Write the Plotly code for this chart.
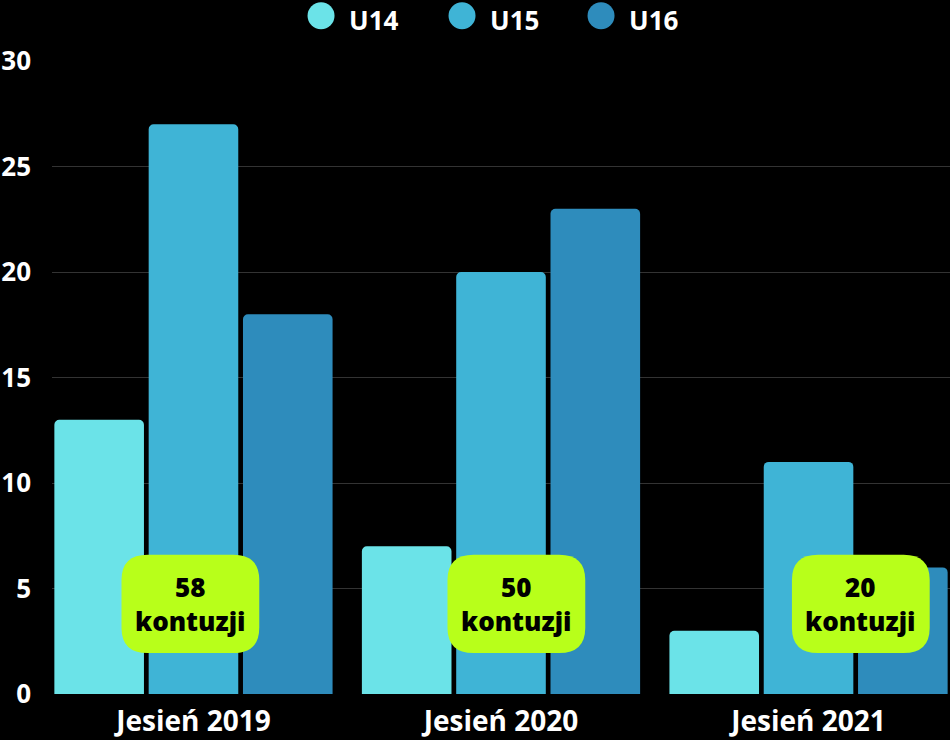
import plotly.graph_objects as go

categories = ["Jesień 2019", "Jesień 2020", "Jesień 2021"]
series_names = ["U14", "U15", "U16"]
u14 = [13, 7, 3]
u15 = [27, 20, 11]
u16 = [18, 23, 6]
colors = ["#6be3e8", "#3fb4d6", "#2e8cbc"]
totals = ["58", "50", "20"]
box_centers = [-0.01, 0.05, 0.17]  # offset from category position
legend_x = [0.2996, 0.4566, 0.6114]  # paper x of legend circles

font_main = "Open Sans"

fig = go.Figure()
for name, vals, col in zip(series_names, [u14, u15, u16], colors):
    fig.add_trace(go.Bar(x=[0, 1, 2], y=vals, name=name, marker=dict(color=col, line=dict(width=0)),
                         showlegend=False, hoverinfo="skip"))

def rounded_rect(x0, x1, y0, y1, rx, ry):
    return (f"M {x0+rx},{y0} L {x1-rx},{y0} Q {x1},{y0} {x1},{y0+ry} "
            f"L {x1},{y1-ry} Q {x1},{y1} {x1-rx},{y1} "
            f"L {x0+rx},{y1} Q {x0},{y1} {x0},{y1-ry} "
            f"L {x0},{y0+ry} Q {x0},{y0} {x0+rx},{y0} Z")

shapes = []
annotations = []
half_w = 0.224
for i, (t, off) in enumerate(zip(totals, box_centers)):
    cx = i + off
    shapes.append(dict(type="path", xref="x", yref="y",
                       path=rounded_rect(cx - half_w, cx + half_w, 1.94, 6.6, 0.085, 1.2),
                       fillcolor="#b8ff1a", line=dict(width=0), layer="above"))
    annotations.append(dict(x=cx, y=4.27, xref="x", yref="y", showarrow=False,
                            text=f"{t}<br>kontuzji", align="center",
                            font=dict(family=font_main, size=26, color="#000000", weight=800)))

# custom legend (large circles)
leg_top = 1.0964      # paper y of figure top edge
leg_circle_y = 1.0714  # paper y of circle centres
for name, col, lx in zip(series_names, colors, legend_x):
    shapes.append(dict(type="circle", xref="paper", yref="paper",
                       xsizemode="pixel", ysizemode="pixel", xanchor=lx, yanchor=leg_circle_y,
                       x0=-13.5, x1=13.5, y0=-13.5, y1=13.5,
                       fillcolor=col, line=dict(width=0)))
    annotations.append(dict(x=lx, y=leg_top, xref="paper", yref="paper", showarrow=False,
                            text=name, xanchor="left", yanchor="top", xshift=26,
                            font=dict(family=font_main, size=26, color="#ffffff", weight="bold")))

fig.update_layout(
    width=950, height=740,
    paper_bgcolor="#000000", plot_bgcolor="#000000",
    margin=dict(l=52, r=0, t=61, b=46, autoexpand=False),
    barmode="group", bargap=0.08, bargroupgap=0.05, barcornerradius=5,
    shapes=shapes, annotations=annotations,
    showlegend=False,
    xaxis=dict(range=[-0.46, 2.46], tickmode="array", tickvals=[0, 1, 2], ticktext=categories,
               showgrid=False, zeroline=False, showline=False, ticks="",
               ticklabelstandoff=8,
               tickfont=dict(family=font_main, size=28, color="#ffffff", weight="bold")),
    yaxis=dict(range=[0, 30], tickvals=[0, 5, 10, 15, 20, 25, 30], showgrid=True,
               gridcolor="#333333", gridwidth=1, zeroline=False, showline=False,
               ticklabelstandoff=20,
               tickfont=dict(family=font_main, size=26, color="#ffffff", weight="bold")),
)

fig.write_html("out.html")
